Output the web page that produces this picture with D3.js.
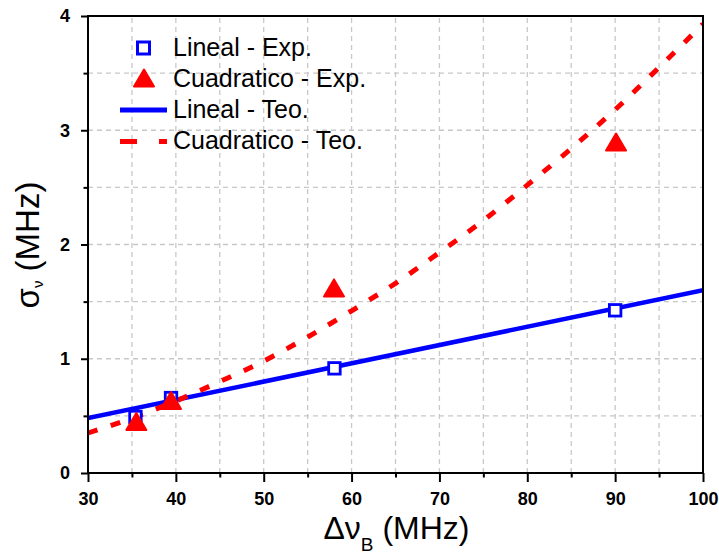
<!DOCTYPE html>
<html>
<head>
<meta charset="utf-8">
<script src="https://cdn.jsdelivr.net/npm/d3@7"></script>
<style>
  html, body { margin: 0; padding: 0; background: #fff; }
  svg { display: block; font-family: Arial, "Liberation Sans", sans-serif; }
</style>
</head>
<body>
<svg id="chart" width="719" height="557"></svg>
<script>
// Linewidth-resolution data: measured (Exp.) and theoretical (Teo.) sigma vs Brillouin linewidth
const linealExpX = [35.4, 39.45, 58.05, 90.0];
const linealExpY = [0.49, 0.656, 0.916, 1.424];

const cuadExpX = [35.5, 39.45, 58.0, 90.1];
const cuadExpY = [0.45, 0.635, 1.62, 2.897];

const linealTeoX = [30, 100];
const linealTeoY = [0.48, 1.6];

const cuadTeoX = [30, 35, 40, 45, 50, 55, 60, 65, 70, 75, 80, 85, 90, 95, 100];
const cuadTeoY = [0.35, 0.48, 0.63, 0.80, 0.98, 1.19, 1.42, 1.66, 1.93, 2.21, 2.52, 2.84, 3.18, 3.55, 3.93];

const xTickValues = [30, 40, 50, 60, 70, 80, 90, 100];
const yTickValues = [0, 1, 2, 3, 4];
const xMinorValues = [35, 45, 55, 65, 75, 85, 95];
const yMinorValues = [0.5, 1.5, 2.5, 3.5];

const legendLabels = ["Lineal - Exp.", "Cuadratico - Exp.", "Lineal - Teo.", "Cuadratico - Teo."];

const BLUE = "#0000ff", RED = "#ff0000";

const svg = d3.select("#chart");
const x = d3.scaleLinear().domain([30, 100]).range([88, 703]);
const y = d3.scaleLinear().domain([0, 4]).range([473, 16]);

svg.append("rect").attr("width", 719).attr("height", 557).attr("fill", "#fff");

// dashed grid at every major and minor tick
const gridX = [...xTickValues, ...xMinorValues].filter(v => v > 30 && v < 100);
const gridY = [...yTickValues, ...yMinorValues].filter(v => v > 0 && v < 4);
const grid = svg.append("g").attr("stroke", "#c8c8c8").attr("stroke-width", 1.3)
  .attr("stroke-dasharray", "5,4");
grid.selectAll("line.gx").data(gridX).join("line").attr("class", "gx")
  .attr("x1", d => x(d)).attr("x2", d => x(d)).attr("y1", y(0)).attr("y2", y(4));
grid.selectAll("line.gy").data(gridY).join("line").attr("class", "gy")
  .attr("y1", d => y(d)).attr("y2", d => y(d)).attr("x1", x(30)).attr("x2", x(100));

// clip for curves
svg.append("clipPath").attr("id", "plotclip").append("rect")
  .attr("x", x(30)).attr("y", y(4)).attr("width", x(100) - x(30)).attr("height", y(0) - y(4));

const plot = svg.append("g").attr("clip-path", "url(#plotclip)");
const line = d3.line().x(d => x(d[0])).y(d => y(d[1]));

plot.append("path")
  .datum(d3.zip(linealTeoX, linealTeoY))
  .attr("d", line)
  .attr("fill", "none").attr("stroke", BLUE).attr("stroke-width", 4.5);

plot.append("path")
  .datum(d3.zip(cuadTeoX, cuadTeoY))
  .attr("d", line.curve(d3.curveMonotoneX))
  .attr("fill", "none").attr("stroke", RED).attr("stroke-width", 5)
  .attr("stroke-dasharray", "10,14");

// markers
const sq = 14;
svg.append("g").selectAll("rect").data(d3.zip(linealExpX, linealExpY)).join("rect")
  .attr("x", d => x(d[0]) - sq / 2 + 1.25).attr("y", d => y(d[1]) - sq / 2 + 1.25)
  .attr("width", sq - 2.5).attr("height", sq - 2.5)
  .attr("fill", "#fff").attr("stroke", BLUE).attr("stroke-width", 2.8);

const triPath = (cx, cy) => {
  const w = 20, h = 17;
  return `M${cx},${cy - h / 2}L${cx + w / 2},${cy + h / 2}L${cx - w / 2},${cy + h / 2}Z`;
};
svg.append("g").selectAll("path").data(d3.zip(cuadExpX, cuadExpY)).join("path")
  .attr("d", d => triPath(x(d[0]), y(d[1])))
  .attr("fill", RED).attr("stroke", RED).attr("stroke-width", 2).attr("stroke-linejoin", "round");

// frame
const frame = svg.append("g").attr("stroke", "#000").attr("stroke-width", 2).attr("fill", "none");
frame.append("rect").attr("x", x(30)).attr("y", y(4)).attr("width", x(100) - x(30)).attr("height", y(0) - y(4));

// axes
const xAxis = svg.append("g").attr("transform", `translate(0,${y(0)})`)
  .call(d3.axisBottom(x).tickValues(xTickValues).tickFormat(d3.format("d")).tickSize(9).tickPadding(10));
const yAxis = svg.append("g").attr("transform", `translate(${x(30)},0)`)
  .call(d3.axisLeft(y).tickValues(yTickValues).tickFormat(d3.format("d")).tickSize(7).tickPadding(11));
const xMinor = svg.append("g").attr("transform", `translate(0,${y(0)})`)
  .call(d3.axisBottom(x).tickValues(xMinorValues).tickFormat("").tickSize(4.5));
const yMinor = svg.append("g").attr("transform", `translate(${x(30)},0)`)
  .call(d3.axisLeft(y).tickValues(yMinorValues).tickFormat("").tickSize(4.5));

[xAxis, yAxis, xMinor, yMinor].forEach(g => {
  g.select(".domain").remove();
  g.selectAll(".tick line").attr("stroke", "#000").attr("stroke-width", 2);
  g.selectAll(".tick text").attr("fill", "#000").attr("font-size", 18).attr("font-weight", "bold")
    .attr("font-family", "Arial, 'Liberation Sans', sans-serif");
});

// axis titles
const xt = svg.append("text").attr("x", 396.5).attr("y", 539).attr("text-anchor", "middle")
  .attr("font-size", 32).attr("fill", "#000");
xt.append("tspan").text("Δν");
xt.append("tspan").attr("font-size", 19).attr("dy", 12).text("B");
xt.append("tspan").attr("dy", -12).text(" (MHz)");

const yt = svg.append("text").attr("transform", "translate(39,245) rotate(-90)")
  .attr("text-anchor", "middle").attr("font-size", 33).attr("fill", "#000");
yt.append("tspan").text("σ");
yt.append("tspan").attr("font-size", 15).attr("dy", 4).text("ν");
yt.append("tspan").attr("dy", -4).text(" (MHz)");

// legend
const lg = svg.append("g");
const rowY = [48, 78, 110, 141.5];
const baseY = [55.5, 86.5, 117.5, 148.5];
lg.append("rect").attr("x", 143.5 - 6).attr("y", rowY[0] - 6).attr("width", 12).attr("height", 12)
  .attr("fill", "#fff").attr("stroke", BLUE).attr("stroke-width", 3);
lg.append("path").attr("d", triPath(144, rowY[1]))
  .attr("fill", RED).attr("stroke", RED).attr("stroke-width", 2).attr("stroke-linejoin", "round");
lg.append("line").attr("x1", 120).attr("x2", 167).attr("y1", rowY[2]).attr("y2", rowY[2])
  .attr("stroke", BLUE).attr("stroke-width", 5);
lg.append("line").attr("x1", 120).attr("x2", 167).attr("y1", rowY[3]).attr("y2", rowY[3])
  .attr("stroke", RED).attr("stroke-width", 5).attr("stroke-dasharray", "17,22");
lg.selectAll("text").data(legendLabels).join("text")
  .attr("x", 173).attr("y", (d, i) => baseY[i])
  .attr("font-size", 25).attr("fill", "#000").text(d => d);
</script>
</body>
</html>
